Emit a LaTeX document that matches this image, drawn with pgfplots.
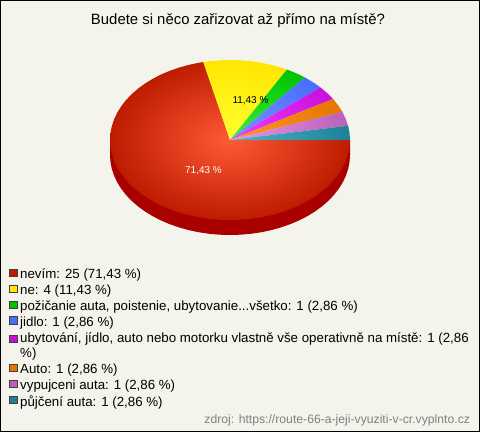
\documentclass[border=0pt]{standalone}
\usepackage{pgfplots}
\pgfplotsset{compat=1.18}
\usepackage{fontspec}
\setmainfont{Liberation Sans}
\definecolor{bgc}{RGB}{244,244,236}
\definecolor{srcc}{RGB}{128,128,128}
\definecolor{wall}{RGB}{170,0,0}
\definecolor{rO}{RGB}{190,28,0}\definecolor{rI}{RGB}{255,90,55}
\definecolor{yO}{RGB}{255,230,0}\definecolor{yI}{RGB}{255,255,50}
\definecolor{gO}{RGB}{0,195,0}\definecolor{gI}{RGB}{60,240,60}
\definecolor{bO}{RGB}{70,110,255}\definecolor{bI}{RGB}{125,145,255}
\definecolor{mO}{RGB}{200,16,220}\definecolor{mI}{RGB}{240,60,255}
\definecolor{oO}{RGB}{230,118,0}\definecolor{oI}{RGB}{255,150,40}
\definecolor{vO}{RGB}{185,98,185}\definecolor{vI}{RGB}{230,150,230}
\definecolor{tO}{RGB}{30,128,150}\definecolor{tI}{RGB}{80,180,200}
\tikzset{
  wedge/.style n args={2}{draw=none,
    path picture={\shade[path picture={},inner color=#1,outer color=#2]
      (axis cs:110,60) rectangle (axis cs:350,220);}},
}
\begin{document}
\begin{tikzpicture}
\begin{axis}[
  x=1pt,y=1pt,y dir=reverse,
  xmin=0.5,xmax=479.5,ymin=0.5,ymax=431.5,
  xtick=\empty,ytick=\empty,
  axis line style={black,line width=1pt},
  axis background/.style={fill=bgc},
  clip=false,
  legend style={at={(axis cs:9.3,269)},anchor=north west,draw=none,fill=none,
    inner sep=0pt,outer sep=0pt,
    font=\fontsize{13.3}{15}\selectfont,
    row sep=4.4pt,
    /tikz/every odd column/.style={column sep=2.7pt},
    nodes={inner sep=0pt,outer sep=0pt},
    cells={anchor=base west}},
  legend cell align=left,
  legend image code/.code={\draw[#1,line width=0.8pt] (0pt,-2pt) rectangle (7.4pt,5.4pt);},
]
% side wall
\addplot[fill=wall,draw=none,forget plot] coordinates {
(350,140)(350,155)(349.54,161.97)(348.18,168.89)(345.91,175.71)(342.76,182.36)(338.76,188.81)(333.92,195)(328.30,200.89)(321.92,206.42)(314.85,211.57)(307.13,216.28)(298.83,220.53)(290,224.28)(280.71,227.50)(271.04,230.18)(261.06,232.27)(250.84,233.78)(240.46,234.70)(230,235)(219.54,234.70)(209.16,233.78)(198.94,232.27)(188.96,230.18)(179.29,227.50)(170,224.28)(161.17,220.53)(152.87,216.28)(145.15,211.57)(138.08,206.42)(131.70,200.89)(126.08,195)(121.24,188.81)(117.24,182.36)(114.09,175.71)(111.82,168.89)(110.46,161.97)(110,155)(110,140)(230,140)} -- cycle;
% 25 (71,43 %)
\addplot[forget plot,wedge={rI}{rO}] coordinates {
(230,140)(350,140)(349.54,146.97)(348.18,153.89)(345.91,160.71)(342.76,167.36)(338.76,173.81)(333.92,180)(328.30,185.89)(321.92,191.42)(314.85,196.57)(307.13,201.28)(298.83,205.53)(290,209.28)(280.71,212.50)(271.04,215.18)(261.06,217.27)(250.84,218.78)(240.46,219.70)(230,220)(219.54,219.70)(209.16,218.78)(198.94,217.27)(188.96,215.18)(179.29,212.50)(170,209.28)(161.17,205.53)(152.87,201.28)(145.15,196.57)(138.08,191.42)(131.70,185.89)(126.08,180)(121.24,173.81)(117.24,167.36)(114.09,160.71)(111.82,153.89)(110.46,146.97)(110,140)(110.46,133.03)(111.82,126.11)(114.09,119.29)(117.24,112.64)(121.24,106.19)(126.08,100)(131.70,94.11)(138.08,88.58)(145.15,83.43)(152.87,78.72)(161.17,74.47)(170,70.72)(179.29,67.50)(188.96,64.82)(198.94,62.73)(203.30,62.01)} -- cycle;
% 4 (11,43 %)
\addplot[forget plot,wedge={yI}{yO}] coordinates {
(230,140)(203.30,62.01)(209.16,61.22)(219.54,60.30)(230,60)(240.46,60.30)(250.84,61.22)(261.06,62.73)(271.04,64.82)(280.71,67.50)(286.87,69.55)} -- cycle;
\addplot[forget plot,wedge={gI}{gO}] coordinates {(230,140)(286.87,69.55)(290,70.72)(298.83,74.47)(304.82,77.46)} -- cycle;
\addplot[forget plot,wedge={bI}{bO}] coordinates {(230,140)(304.82,77.46)(307.13,78.72)(314.85,83.43)(320.37,87.37)} -- cycle;
\addplot[forget plot,wedge={mI}{mO}] coordinates {(230,140)(320.37,87.37)(321.92,88.58)(328.30,94.11)(333.01,98.97)} -- cycle;
\addplot[forget plot,wedge={oI}{oO}] coordinates {(230,140)(333.01,98.97)(333.92,100)(338.76,106.19)(342.34,111.89)} -- cycle;
\addplot[forget plot,wedge={vI}{vO}] coordinates {(230,140)(342.34,111.89)(342.76,112.64)(345.91,119.29)(348.07,125.71)} -- cycle;
\addplot[forget plot,wedge={tI}{tO}] coordinates {(230,140)(348.07,125.71)(348.18,126.11)(349.54,133.03)(350,140)} -- cycle;

\addlegendimage{fill=rO,draw=black!75}\addlegendentry{nevím: 25 (71,43 \%)}
\addlegendimage{fill=yO,draw=black!75}\addlegendentry{ne: 4 (11,43 \%)}
\addlegendimage{fill=gO,draw=black!75}\addlegendentry{požičanie auta, poistenie, ubytovanie...všetko: 1 (2,86 \%)}
\addlegendimage{fill=bO,draw=black!75}\addlegendentry{jidlo: 1 (2,86 \%)}
\addlegendimage{legend image code/.code={\draw[fill=mO,draw=black!75,line width=0.8pt] (0pt,3.5pt) rectangle (7.4pt,10.9pt);}}\addlegendentry[text depth=16.8pt]{\begin{tabular}[t]{@{}l@{}}ubytování, jídlo, auto nebo motorku vlastně vše operativně na místě: 1 (2,86\\[0pt]\%)\end{tabular}}
\addlegendimage{fill=oO,draw=black!75}\addlegendentry{Auto: 1 (2,86 \%)}
\addlegendimage{fill=vO,draw=black!75}\addlegendentry{vypujceni auta: 1 (2,86 \%)}
\addlegendimage{fill=tO,draw=black!75}\addlegendentry{půjčení auta: 1 (2,86 \%)}

\node[font=\fontsize{14.9}{16}\selectfont,text=black] at (axis cs:238,20.7) {Budete si něco zařizovat až přímo na místě?};
\node[font=\fontsize{10}{12}\selectfont,text=white] at (axis cs:203.5,170.5) {71,43 \%};
\node[font=\fontsize{10}{12}\selectfont,text=black] at (axis cs:250.5,100.5) {11,43 \%};
\node[font=\fontsize{12.2}{14}\selectfont,text=srcc,anchor=east] at (axis cs:473.5,420) {zdroj: https://route-66-a-jeji-vyuziti-v-cr.vyplnto.cz};
\end{axis}
\end{tikzpicture}
\end{document}
